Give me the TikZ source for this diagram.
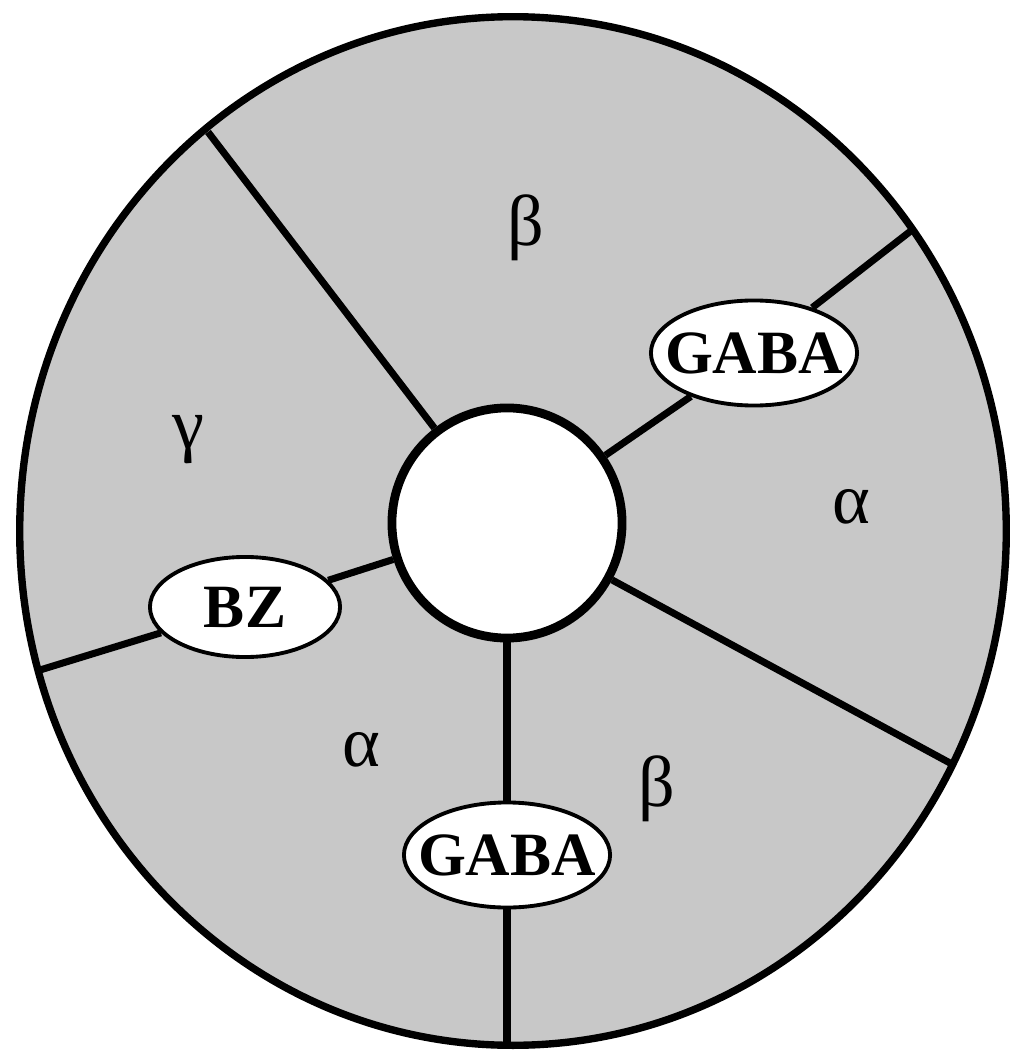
\documentclass[tikz,border=0pt]{standalone}
\usepackage{fontspec}
\setmainfont{Liberation Serif}
\usetikzlibrary{shapes.geometric}
\definecolor{cellgray}{RGB}{200,200,200}
\tikzset{
  site/.style={ellipse, draw, line width=1.1pt, fill=white,
    inner xsep=-0.16cm, inner ysep=0pt,
    minimum width=1.98cm, minimum height=1.05cm,
    font=\fontsize{17.5}{20}\selectfont\bfseries},
  subunit/.style={font=\fontsize{20.5}{24}\selectfont},
  spoke/.style={line width=2pt},
}
\begin{document}
\begin{tikzpicture}[x=0.01cm,y=-0.01cm]
        \useasboundingbox (0,0) rectangle (1012,1052);
        \draw[fill=cellgray, line width=2.1pt] (513,531) ellipse [x radius=4.93cm, y radius=5.14cm];
        \coordinate (rimA) at (208,132);
        \coordinate (rimB) at (912,230);
        \coordinate (rimC) at (950,763);
        \coordinate (rimD) at (507,1047);
        \coordinate (rimE) at (40,670);
        \node[circle, draw, fill=white, line width=2.5pt, minimum size=2.3cm, inner sep=0pt] (pore) at (507,523) {};
        \node[site] (gabaR) at (754,353) {GABA};
        \node[site] (gabaB) at (507,855) {GABA};
        \node[site, minimum width=1.9cm, minimum height=1.0cm] (bz) at (245,607) {BZ};
        \draw[spoke] (pore) -- (rimA);
        \draw[spoke] (pore) -- (gabaR) -- (rimB);
        \draw[spoke] (pore) -- (rimC);
        \draw[spoke] (pore) -- (gabaB) -- (rimD);
        \draw[spoke] (pore) -- (bz) -- (rimE);
        \node[subunit] (betaT) at (526,228) {β};
        \node[subunit] (gammaL) at (188,440) {γ};
        \node[subunit] (alphaR) at (851,507) {α};
        \node[subunit] (alphaL) at (361,750) {α};
        \node[subunit] (betaB) at (657,789) {β};
    \end{tikzpicture}
\end{document}
